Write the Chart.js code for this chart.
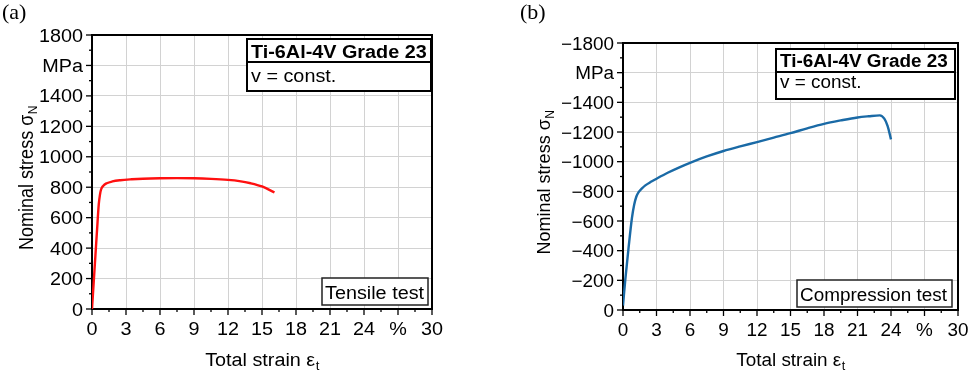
<!DOCTYPE html>
<html><head><meta charset="utf-8">
<script src="https://cdn.jsdelivr.net/npm/chart.js@4.4.0/dist/chart.umd.min.js"></script>
<style>
html,body{margin:0;padding:0;background:#fff;}
#wrap{position:relative;width:969px;height:374px;overflow:hidden;}
canvas{position:absolute;left:0;top:0;}
</style></head><body>
<div id="wrap"><canvas id="ca" width="969" height="374"></canvas><canvas id="cb" width="969" height="374"></canvas></div>
<script>
// ---- data (strain in %, nominal stress in MPa) ----
const tensileStrain = [0, 0.15, 0.3, 0.45, 0.6, 0.7, 0.8, 1.0, 1.3, 1.8, 2.5, 3.5, 4.5, 6.0, 7.5, 9.0, 10.5, 12.0, 13.0, 14.0, 15.0, 16.1];
const tensileStress = [0, 175, 350, 525, 690, 750, 785, 810, 826, 838, 846, 852, 856, 859, 860, 859, 855, 848, 840, 826, 805, 766];
const compStrain = [0, 0.2, 0.5, 0.8, 1.0, 1.2, 1.4, 1.7, 2.0, 2.5, 3.0, 4.0, 5.0, 6.0, 7.5, 9.0, 10.5, 12.0, 13.5, 15.0, 16.5, 18.0, 19.5, 21.0, 22.0, 23.0, 23.4, 23.7, 24.0];
const compStress = [-30, -200, -420, -620, -710, -765, -795, -820, -840, -864, -885, -925, -960, -992, -1035, -1072, -1103, -1132, -1162, -1192, -1225, -1255, -1278, -1298, -1306, -1312, -1290, -1240, -1150];

const xTickValues = [0, 3, 6, 9, 12, 15, 18, 21, 24, 27, 30];
const xTickLabels = ['0', '3', '6', '9', '12', '15', '18', '21', '24', '%', '30'];
const yTickValuesA = [0, 200, 400, 600, 800, 1000, 1200, 1400, 1600, 1800];
const yTickLabelsA = ['0', '200', '400', '600', '800', '1000', '1200', '1400', 'MPa', '1800'];
const yTickValuesB = [0, -200, -400, -600, -800, -1000, -1200, -1400, -1600, -1800];
const yTickLabelsB = ['0', '\u2212200', '\u2212400', '\u2212600', '\u2212800', '\u22121000', '\u22121200', '\u22121400', 'MPa', '\u22121800'];

const SANS = '"Liberation Sans", Arial, sans-serif';
const SERIF = '"Liberation Serif", "Times New Roman", serif';

function pts(xs, ys){ return xs.map((x,i)=>({x:x, y:ys[i]})); }

function txt(ctx, s, x, y, align, font, sx){
  ctx.save();
  ctx.font = font;
  ctx.textAlign = align;
  ctx.textBaseline = 'alphabetic';
  ctx.translate(x, y);
  ctx.scale(sx, 1);
  ctx.fillText(s, 0, 0);
  ctx.restore();
}
function tw(ctx, s, font){ ctx.save(); ctx.font = font; const w = ctx.measureText(s).width; ctx.restore(); return w; }

function decor(c){
  const SX = c.sx;
  return {
    id: 'decor',
    beforeDatasetsDraw(chart){
      const ctx = chart.ctx, a = chart.chartArea, x = chart.scales.x, y = chart.scales.y;
      ctx.save();
      ctx.strokeStyle = '#000';
      ctx.lineWidth = 1.3;
      for (let k = 0; k <= 20; k++){
        const px = x.getPixelForValue(x.min + k*1.5);
        const len = (k % 2 === 0) ? 6 : 3;
        ctx.beginPath(); ctx.moveTo(px, a.bottom); ctx.lineTo(px, a.bottom + len); ctx.stroke();
      }
      for (let k = 0; k <= 18; k++){
        const py = y.getPixelForValue(Math.min(y.min, y.max) + k*100);
        const len = (k % 2 === 0) ? 6 : 3;
        ctx.beginPath(); ctx.moveTo(a.left, py); ctx.lineTo(a.left - len, py); ctx.stroke();
      }
      ctx.lineWidth = 2;
      ctx.strokeRect(a.left, a.top, a.right - a.left, a.bottom - a.top);
      ctx.restore();
    },
    afterDatasetsDraw(chart){
      const ctx = chart.ctx, a = chart.chartArea;
      ctx.save();
      const m = c.matBox;
      const bx = a.right - m.dr - m.w, by = a.top + m.dt;
      ctx.fillStyle = '#fff';
      ctx.fillRect(bx, by, m.w, m.h);
      ctx.strokeStyle = '#000'; ctx.lineWidth = 2;
      ctx.strokeRect(bx, by, m.w, m.h);
      ctx.beginPath(); ctx.moveTo(bx, by + m.div); ctx.lineTo(bx + m.w, by + m.div); ctx.stroke();
      ctx.fillStyle = '#000';
      txt(ctx, 'Ti-6Al-4V Grade 23', bx + 4, by + m.t1, 'left', 'bold 18px ' + SANS, SX);
      txt(ctx, 'v = const.', bx + 4, by + m.t2, 'left', '18px ' + SANS, SX);
      const t = c.testBox;
      const tx = a.right - t.dr - t.w, ty = a.bottom - t.db - t.h;
      ctx.fillStyle = '#fff';
      ctx.fillRect(tx, ty, t.w, t.h);
      ctx.strokeStyle = '#222'; ctx.lineWidth = 1.5;
      ctx.strokeRect(tx, ty, t.w, t.h);
      ctx.fillStyle = '#000';
      txt(ctx, t.text, tx + 3, ty + t.h - 6, 'left', '18px ' + SANS, SX);
      ctx.restore();
    },
    afterDraw(chart){
      const ctx = chart.ctx, a = chart.chartArea, x = chart.scales.x, y = chart.scales.y;
      const F = '18px ' + SANS, FS = '12px ' + SANS;
      ctx.save();
      ctx.fillStyle = '#000';
      xTickValues.forEach((v, i) => txt(ctx, xTickLabels[i], x.getPixelForValue(v), a.bottom + 26, 'center', F, SX));
      c.yVals.forEach((v, i) => txt(ctx, c.yLabels[i], a.left - 9, y.getPixelForValue(v) + 6.5, 'right', F, SX));
      const main = 'Total strain \u03b5';
      const w1 = tw(ctx, main, F) * SX, w2 = tw(ctx, 't', FS) * SX;
      const x0 = (a.left + a.right)/2 - (w1 + w2)/2;
      txt(ctx, main, x0, 366, 'left', F, SX);
      txt(ctx, 't', x0 + w1 + 0.5, 370, 'left', FS, SX);
      const ym = 'Nominal stress \u03c3';
      const v1 = tw(ctx, ym, F), v2 = tw(ctx, 'N', FS);
      ctx.save();
      ctx.translate(c.yTitleX, (a.top + a.bottom)/2 + 6);
      ctx.rotate(-Math.PI/2);
      ctx.scale(1, SX);
      ctx.textAlign = 'left'; ctx.textBaseline = 'alphabetic';
      const y0 = -(v1 + v2)/2;
      ctx.font = F; ctx.fillText(ym, y0, 0);
      ctx.font = FS; ctx.fillText('N', y0 + v1 + 0.5, 4);
      ctx.restore();
      txt(ctx, c.panel, c.panelX, 19, 'left', '22px ' + SERIF, 1);
      ctx.restore();
    }
  };
}

function makeChart(id, c){
  return new Chart(document.getElementById(id), {
    type: 'line',
    data: { datasets: [{ data: pts(c.xs, c.ys), borderColor: c.color, borderWidth: 2.4, pointRadius: 0, fill: false, cubicInterpolationMode: 'monotone' }] },
    options: {
      responsive: false, animation: false, events: [],
      layout: { padding: c.pad },
      plugins: { legend: { display: false }, tooltip: { enabled: false } },
      scales: {
        x: {
          type: 'linear', min: 0, max: 30,
          afterBuildTicks(s){ s.ticks = xTickValues.map(v => ({value: v})); },
          afterFit(s){ s.height = c.xH; },
          ticks: { display: false },
          grid: { color: '#d2d2d2', lineWidth: 1, drawTicks: false },
          border: { display: false }
        },
        y: {
          type: 'linear', min: c.yMin, max: c.yMax, reverse: c.rev,
          afterBuildTicks(s){ s.ticks = c.yVals.slice().sort((p,q)=>p-q).map(v => ({value: v})); },
          afterFit(s){ s.width = c.yW; },
          ticks: { display: false },
          grid: { color: '#d2d2d2', lineWidth: 1, drawTicks: false },
          border: { display: false }
        }
      }
    },
    plugins: [decor(c)]
  });
}

makeChart('ca', {
  xs: tensileStrain, ys: tensileStress, color: '#ff1010', sx: 1.1,
  yMin: 0, yMax: 1800, rev: false, yVals: yTickValuesA, yLabels: yTickLabelsA,
  pad: { left: 0, right: 537, top: 35, bottom: 0 }, yW: 92, xH: 65,
  yTitleX: 33, panel: '(a)', panelX: 2,
  matBox: { dr: 1, dt: 4, w: 184, h: 52, div: 23, t1: 19, t2: 43 },
  testBox: { dr: 4, db: 4, w: 106, h: 27, text: 'Tensile test' }
});
makeChart('cb', {
  xs: compStrain, ys: compStress, color: '#1a6aa6', sx: 1.05,
  yMin: -1800, yMax: 0, rev: true, yVals: yTickValuesB, yLabels: yTickLabelsB,
  pad: { left: 0, right: 11, top: 43, bottom: 0 }, yW: 623, xH: 64,
  yTitleX: 550, panel: '(b)', panelX: 520,
  matBox: { dr: 3, dt: 6, w: 179, h: 50, div: 23, t1: 18, t2: 39 },
  testBox: { dr: 6, db: 3, w: 155, h: 27, text: 'Compression test' }
});
</script>
</body></html>
